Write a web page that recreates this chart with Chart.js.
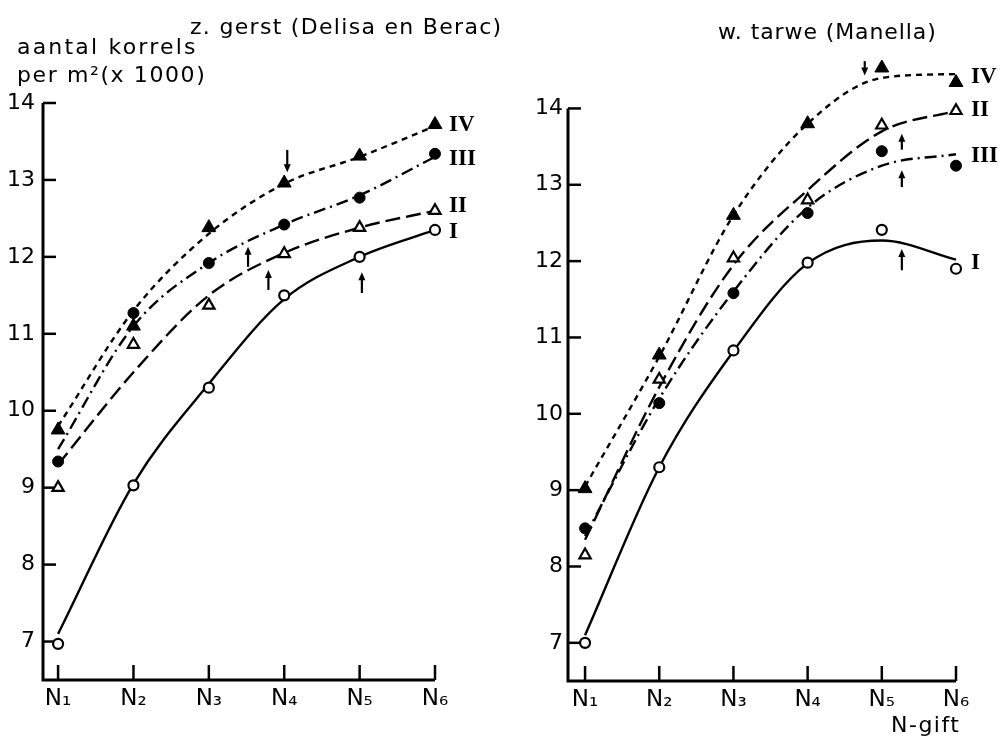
<!DOCTYPE html>
<html>
<head>
<meta charset="utf-8">
<script src="https://cdn.jsdelivr.net/npm/chart.js@4/dist/chart.umd.min.js"></script>
<style>
  body { margin: 0; background: #fff; }
  #wrap { position: relative; width: 1000px; height: 737px; font-family: "DejaVu Sans", sans-serif; color: #000; }
  .txt { position: absolute; white-space: nowrap; font-size: 22px; line-height: 24px; }
  canvas { position: absolute; top: 0; }
</style>
</head>
<body>
<div id="wrap">
  <canvas id="gerstChart" width="500" height="737" style="left:0"></canvas>
  <canvas id="tarweChart" width="500" height="737" style="left:500px"></canvas>
  <div class="txt" style="left:17px;top:35px;letter-spacing:2.2px">aantal korrels</div>
  <div class="txt" style="left:17px;top:63px;letter-spacing:1.6px">per m²(x 1000)</div>
  <div class="txt" style="left:190px;top:15px;letter-spacing:1.3px">z. gerst (Delisa en Berac)</div>
  <div class="txt" style="left:718px;top:20px;letter-spacing:0.9px">w. tarwe (Manella)</div>
  <div class="txt" style="left:891px;top:713px;letter-spacing:1.5px">N-gift</div>
</div>
<script>
// N levels on the x axis
const categories = ['N₁', 'N₂', 'N₃', 'N₄', 'N₅', 'N₆'];
const nLevels = [1, 2, 3, 4, 5, 6];
const yTicks = [7, 8, 9, 10, 11, 12, 13, 14];

// z. gerst (Delisa en Berac) - measured points
const gerstI   = [6.97, 9.03, 10.3, 11.5, 12.0, 12.35];
const gerstII  = [9.0, 10.86, 11.37, 12.04, 12.38, 12.6];
const gerstIII = [9.34, 11.27, 11.92, 12.42, 12.77, 13.34];
const gerstIV  = [9.75, 11.1, 12.38, 12.96, 13.31, 13.72];
// z. gerst - fitted curves
const gerstFitI   = [7.1, 9.05, 10.35, 11.45, 12.0, 12.35];
const gerstFitII  = [9.3, 10.5, 11.5, 12.05, 12.38, 12.6];
const gerstFitIII = [9.5, 11.1, 11.92, 12.42, 12.8, 13.3];
const gerstFitIV  = [9.8, 11.3, 12.3, 12.95, 13.3, 13.7];

// w. tarwe (Manella) - measured points
const tarweI   = [7.0, 9.3, 10.83, 11.98, 12.41, 11.9];
const tarweII  = [8.15, 10.45, 12.04, 12.8, 13.78, 13.97];
const tarweIII = [8.5, 10.14, 11.58, 12.63, 13.44, 13.25];
const tarweIV  = [9.02, 10.77, 12.6, 13.8, 14.53, 14.34];
// w. tarwe - fitted curves
const tarweFitI   = [7.1, 9.3, 10.82, 11.97, 12.27, 12.02];
const tarweFitII  = [8.35, 10.35, 11.95, 12.93, 13.7, 13.97];
const tarweFitIII = [8.4, 10.2, 11.6, 12.7, 13.25, 13.4];
const tarweFitIV  = [9.05, 10.75, 12.6, 13.8, 14.4, 14.45];

// optimum arrows: x position (N level), tail value, tip value
const gerstArrows = [
  { x: 4.04, from: 13.39, to: 13.1 },
  { x: 3.52, from: 11.87, to: 12.13 },
  { x: 3.79, from: 11.57, to: 11.83 },
  { x: 5.03, from: 11.53, to: 11.8 }
];
const tarweArrows = [
  { x: 4.77, from: 14.62, to: 14.43 },
  { x: 5.27, from: 13.46, to: 13.67 },
  { x: 5.27, from: 12.97, to: 13.19 },
  { x: 5.27, from: 11.88, to: 12.16 }
];

// series labels next to N6
const gerstLabels = [
  { text: 'IV', y: 13.73 }, { text: 'III', y: 13.29 }, { text: 'II', y: 12.67 }, { text: 'I', y: 12.33 }
];
const tarweLabels = [
  { text: 'IV', y: 14.42 }, { text: 'II', y: 13.99 }, { text: 'III', y: 13.39 }, { text: 'I', y: 11.99 }
];

const toXY = arr => arr.map((v, i) => ({ x: nLevels[i], y: v }));

// markers per series: I open circle, II open triangle, III filled circle, IV filled triangle
function markerSet(values, style, filled, radius) {
  return {
    data: toXY(values),
    showLine: false,
    pointStyle: style,
    pointRadius: radius,
    pointBackgroundColor: filled ? '#000' : '#fff',
    pointBorderColor: '#000',
    pointBorderWidth: filled ? 1 : 2.2,
    clip: false,
    order: 0
  };
}

function curveSet(values, dash) {
  return {
    data: toXY(values),
    borderColor: '#000',
    borderWidth: 2.4,
    borderDash: dash,
    pointRadius: 0,
    cubicInterpolationMode: 'monotone',
    fill: false,
    clip: false,
    order: 1
  };
}

const decorPlugin = {
  id: 'decor',
  beforeDatasetsDraw(chart, args, opts) {
    const ctx = chart.ctx, xs = chart.scales.x, ys = chart.scales.y;
    const left = chart.chartArea.left, bottom = chart.chartArea.bottom;
    const top = ys.getPixelForValue(14), right = xs.getPixelForValue(6);
    ctx.save();
    ctx.strokeStyle = '#000';
    ctx.lineWidth = 3;
    ctx.beginPath();
    ctx.moveTo(left, top);
    ctx.lineTo(left, bottom);
    ctx.lineTo(right, bottom);
    ctx.stroke();
    ctx.lineWidth = 2.5;
    yTicks.forEach(v => {
      const py = ys.getPixelForValue(v);
      ctx.beginPath();
      ctx.moveTo(left, py);
      ctx.lineTo(left + 13, py);
      ctx.stroke();
    });
    nLevels.forEach(n => {
      const px = xs.getPixelForValue(n);
      ctx.beginPath();
      ctx.moveTo(px, bottom);
      ctx.lineTo(px, bottom - 15);
      ctx.stroke();
    });
    ctx.restore();
  },
  afterDatasetsDraw(chart, args, opts) {
    const ctx = chart.ctx, xs = chart.scales.x, ys = chart.scales.y;
    ctx.save();
    ctx.strokeStyle = '#000';
    ctx.fillStyle = '#000';
    opts.arrows.forEach(a => {
      const px = xs.getPixelForValue(a.x);
      const y0 = ys.getPixelForValue(a.from), y1 = ys.getPixelForValue(a.to);
      const dir = y1 < y0 ? 1 : -1;
      ctx.lineWidth = 2.2;
      ctx.beginPath();
      ctx.moveTo(px, y0);
      ctx.lineTo(px, y1 + dir * 5);
      ctx.stroke();
      ctx.beginPath();
      ctx.moveTo(px, y1);
      ctx.lineTo(px - 3.5, y1 + dir * 8);
      ctx.lineTo(px + 3.5, y1 + dir * 8);
      ctx.closePath();
      ctx.fill();
    });
    ctx.font = 'bold 23px "Liberation Serif", serif';
    ctx.textBaseline = 'middle';
    ctx.textAlign = 'left';
    const x6 = xs.getPixelForValue(6);
    opts.labels.forEach(l => {
      ctx.fillText(l.text, x6 + opts.labelGap, ys.getPixelForValue(l.y) + 1);
    });
    ctx.restore();
  }
};

function makeChart(id, sets, cfg) {
  return new Chart(document.getElementById(id), {
    type: 'line',
    data: {
      datasets: [
        markerSet(sets.I, 'circle', false, 5),
        markerSet(sets.II, 'triangle', false, 6.5),
        markerSet(sets.III, 'circle', true, 5.5),
        markerSet(sets.IV, 'triangle', true, 8)
      ].concat([
        curveSet(sets.fitI, []),
        curveSet(sets.fitII, [15, 6]),
        curveSet(sets.fitIII, [12, 5, 2, 5]),
        curveSet(sets.fitIV, [6, 5])
      ])
    },
    options: {
      responsive: false,
      animation: false,
      layout: { padding: cfg.padding },
      plugins: {
        legend: { display: false },
        tooltip: { enabled: false },
        decor: { arrows: cfg.arrows, labels: cfg.labels, labelGap: cfg.labelGap }
      },
      scales: {
        x: {
          type: 'linear',
          min: cfg.xMin,
          max: 6,
          afterFit: s => { s.height = 40; },
          grid: { display: false, drawTicks: false },
          border: { display: false },
          ticks: {
            stepSize: 1,
            includeBounds: false,
            padding: 5,
            color: '#000',
            font: { family: '"DejaVu Sans", sans-serif', size: 23 },
            callback: v => categories[Math.round(v) - 1]
          }
        },
        y: {
          min: 6.5,
          max: cfg.yMax,
          afterFit: s => { s.width = cfg.yWidth; },
          grid: { display: false, drawTicks: false },
          border: { display: false },
          ticks: {
            stepSize: 1,
            includeBounds: false,
            padding: cfg.yPad,
            color: '#000',
            font: { family: '"DejaVu Sans", sans-serif', size: 22 }
          }
        }
      }
    },
    plugins: [decorPlugin]
  });
}

makeChart('gerstChart',
  { I: gerstI, II: gerstII, III: gerstIII, IV: gerstIV,
    fitI: gerstFitI, fitII: gerstFitII, fitIII: gerstFitIII, fitIV: gerstFitIV },
  { padding: { top: 103, right: 65, bottom: 17, left: 0 }, xMin: 0.8, yMax: 14, yWidth: 43, yPad: 8,
    arrows: gerstArrows, labels: gerstLabels, labelGap: 14 });

makeChart('tarweChart',
  { I: tarweI, II: tarweII, III: tarweIII, IV: tarweIV,
    fitI: tarweFitI, fitII: tarweFitII, fitIII: tarweFitIII, fitIV: tarweFitIV },
  { padding: { top: 55, right: 44, bottom: 16, left: 0 }, xMin: 0.77, yMax: 14.7, yWidth: 68, yPad: 5,
    arrows: tarweArrows, labels: tarweLabels, labelGap: 15 });
</script>
</body>
</html>
